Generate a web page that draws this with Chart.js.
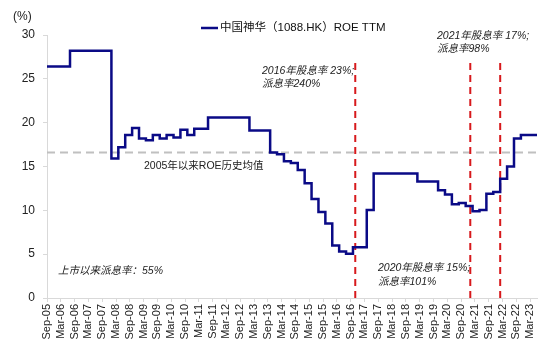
<!DOCTYPE html>
<html>
<head>
<meta charset="utf-8">
<script src="https://cdn.jsdelivr.net/npm/chart.js@4.4.1/dist/chart.umd.min.js"></script>
<style>
  html, body { margin: 0; padding: 0; background: #fff; }
  #wrap { width: 550px; height: 350px; position: relative; }
</style>
</head>
<body>
<div id="wrap"><canvas id="chart"></canvas></div>
<script>
// x tick labels, one every 6 months starting Sep-05
var tickLabels = [
  'Sep-05', 'Mar-06', 'Sep-06', 'Mar-07', 'Sep-07', 'Mar-08', 'Sep-08', 'Mar-09',
  'Sep-09', 'Mar-10', 'Sep-10', 'Mar-11', 'Sep-11', 'Mar-12', 'Sep-12', 'Mar-13',
  'Sep-13', 'Mar-14', 'Sep-14', 'Mar-15', 'Sep-15', 'Mar-16', 'Sep-16', 'Mar-17',
  'Sep-17', 'Mar-18', 'Sep-18', 'Mar-19', 'Sep-19', 'Mar-20', 'Sep-20', 'Mar-21',
  'Sep-21', 'Mar-22', 'Sep-22', 'Mar-23'
];

// months where ROE TTM changes (value holds until next change)
var stepDates = [
  '2005-09', '2006-07', '2008-01', '2008-04', '2008-07', '2008-10', '2009-01', '2009-04',
  '2009-07', '2009-10', '2010-01', '2010-04', '2010-07', '2010-10', '2011-01', '2011-07',
  '2013-01', '2013-10', '2014-01', '2014-04', '2014-07', '2014-10', '2015-01', '2015-04',
  '2015-07', '2015-10', '2016-01', '2016-04', '2016-07', '2016-10', '2017-04', '2017-07',
  '2019-02', '2019-11', '2020-02', '2020-05', '2020-08', '2020-11', '2021-02', '2021-05',
  '2021-08', '2021-11', '2022-02', '2022-05', '2022-08', '2022-11', '2023-06'
];
var roeValues = [
  26.4, 28.2, 15.9, 17.2, 18.6, 19.4, 18.2, 18.0,
  18.6, 18.2, 18.6, 18.3, 19.2, 18.6, 19.3, 20.6,
  19.1, 16.6, 16.4, 15.6, 15.4, 14.6, 13.1, 11.3,
  9.8, 8.5, 6.0, 5.3, 5.05, 5.8, 10.05, 14.2,
  13.3, 12.3, 11.8, 10.7, 10.85, 10.5, 9.9, 10.05,
  11.9, 12.1, 13.6, 15.0, 18.2, 18.6, 18.6
];

var avgRoe = 16.6;            // 2005年以来ROE历史均值
var payoutDates = ['2016-11', '2021-01', '2022-02'];
var payoutTop = 27.2;

var startYear = 2005, startMonth = 9;
function monthIndex(s) {
  var p = s.split('-');
  return (parseInt(p[0], 10) - startYear) * 12 + (parseInt(p[1], 10) - startMonth);
}
var lastIndex = monthIndex(stepDates[stepDates.length - 1]);

var roeData = stepDates.map(function (d, i) { return { x: monthIndex(d), y: roeValues[i] }; });
var avgData = [{ x: 0, y: avgRoe }, { x: lastIndex, y: avgRoe }];

var FONT = '"Liberation Sans", Arial, "Noto Sans CJK SC", sans-serif';
var navy = '#0a0a86';

var datasets = [{
  label: '中国神华（1088.HK）ROE TTM',
  data: roeData,
  borderColor: navy,
  backgroundColor: navy,
  borderWidth: 2.5,
  stepped: 'before',
  pointRadius: 0,
  fill: false,
  order: 0
}, {
  label: 'avg',
  data: avgData,
  borderColor: '#c0c0c0',
  borderWidth: 2,
  borderDash: [8, 5],
  pointRadius: 0,
  fill: false,
  order: 2
}];
payoutDates.forEach(function (d) {
  var m = monthIndex(d);
  datasets.push({
    label: 'payout',
    data: [{ x: m, y: 0 }, { x: m, y: payoutTop }],
    borderColor: '#d7191c',
    borderWidth: 2,
    borderDash: [7, 5],
    pointRadius: 0,
    fill: false,
    order: 1
  });
});

var textPlugin = {
  id: 'texts',
  afterDraw: function (chart) {
    var ctx = chart.ctx;
    ctx.save();
    ctx.textBaseline = 'middle';
    ctx.textAlign = 'left';
    ctx.fillStyle = '#222';
    ctx.font = '12px ' + FONT;
    ctx.fillText('(%)', 13, 17);

    // legend
    ctx.strokeStyle = navy;
    ctx.lineWidth = 2.5;
    ctx.beginPath();
    ctx.moveTo(201, 28);
    ctx.lineTo(218, 28);
    ctx.stroke();
    ctx.font = '11.5px ' + FONT;
    ctx.fillStyle = '#111';
    ctx.fillText('中国神华（1088.HK）ROE TTM', 220, 28);

    ctx.fillStyle = '#222';
    ctx.font = '10.5px ' + FONT;
    ctx.fillText('2005年以来ROE历史均值', 144, 166);

    ctx.font = 'italic 10.5px ' + FONT;
    ctx.fillText('2016年股息率 23%;', 262, 71);
    ctx.fillText('派息率240%', 262, 84);
    ctx.fillText('2021年股息率 17%;', 437, 36);
    ctx.fillText('派息率98%', 437, 49);
    ctx.fillText('2020年股息率 15%;', 378, 268);
    ctx.fillText('派息率101%', 378, 282);
    ctx.fillText('上市以来派息率：55%', 58, 271);
    ctx.restore();
  }
};

new Chart(document.getElementById('chart'), {
  type: 'line',
  data: { datasets: datasets },
  options: {
    responsive: true,
    maintainAspectRatio: false,
    animation: false,
    layout: { padding: { top: 35, right: 13, left: 0, bottom: 0 } },
    plugins: {
      legend: { display: false },
      tooltip: { enabled: false }
    },
    scales: {
      x: {
        type: 'linear',
        min: 0,
        max: lastIndex,
        afterBuildTicks: function (axis) {
          axis.ticks = tickLabels.map(function (l, i) { return { value: i * 6 }; });
        },
        afterFit: function (scale) { scale.height = 52; },
        ticks: {
          autoSkip: false,
          minRotation: 90,
          maxRotation: 90,
          padding: 2,
          color: '#222',
          font: { family: FONT, size: 11 },
          callback: function (v, i) { return tickLabels[i]; }
        },
        grid: { drawOnChartArea: false, drawTicks: true, tickLength: 4, color: '#d9d9d9' },
        border: { color: '#d9d9d9' }
      },
      y: {
        min: 0,
        max: 30,
        afterFit: function (scale) { scale.width = 47; },
        ticks: {
          stepSize: 5,
          padding: 8,
          color: '#222',
          font: { family: FONT, size: 12 }
        },
        grid: { drawOnChartArea: false, drawTicks: true, tickLength: 4, color: '#d9d9d9' },
        border: { color: '#d9d9d9' }
      }
    }
  },
  plugins: [textPlugin]
});
</script>
</body>
</html>
